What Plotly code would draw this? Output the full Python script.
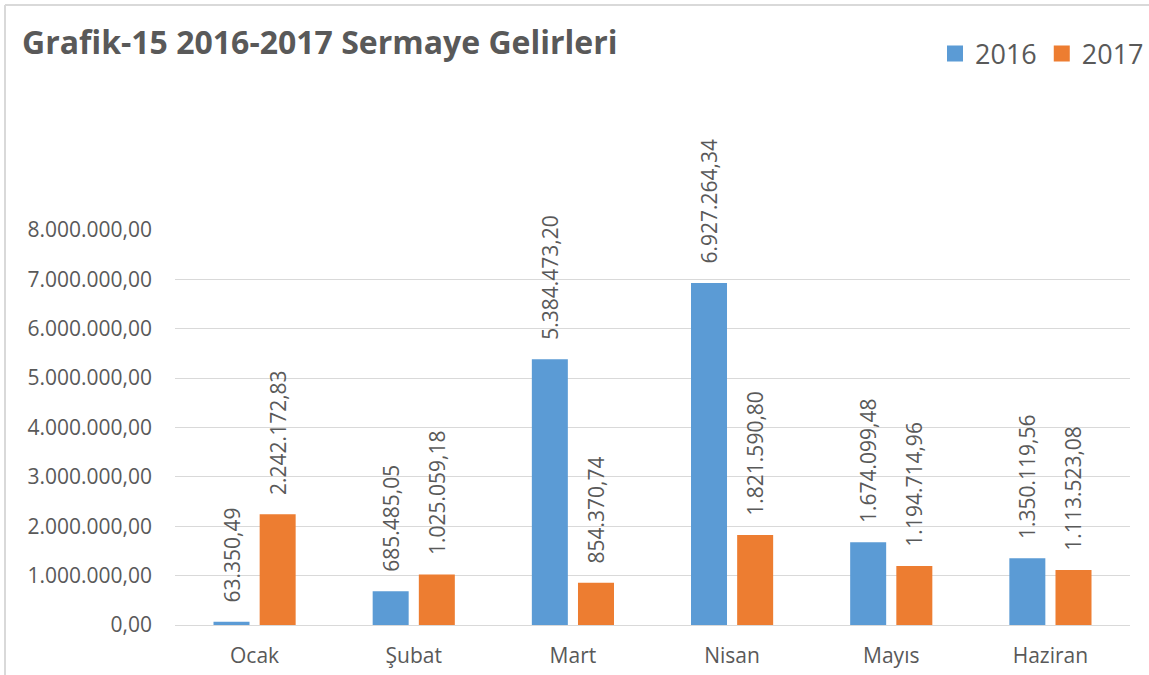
import plotly.graph_objects as go

months = ["Ocak", "Şubat", "Mart", "Nisan", "Mayıs", "Haziran"]
values_2016 = [63350.49, 685485.05, 5384473.20, 6927264.34, 1674099.48, 1350119.56]
values_2017 = [2242172.83, 1025059.18, 854370.74, 1821590.80, 1194714.96, 1113523.08]
y_ticks = [0, 1e6, 2e6, 3e6, 4e6, 5e6, 6e6, 7e6, 8e6]

BLUE = "#5B9BD5"
ORANGE = "#ED7D31"
GREY = "#595959"
FONT = "Open Sans, Noto Sans, sans-serif"


def tr_format(v: float) -> str:
    # Turkish number format: 1.234.567,89 (nbsp pad keeps label off the bar top)
    s = f"{v:,.2f}".replace(",", "X").replace(".", ",").replace("X", ".")
    return "\u00a0\u00a0\u00a0" + s


def bar(name, values, color) -> go.Bar:
    return go.Bar(
        name=name, x=months, y=values,
        marker=dict(color=color, line=dict(width=0)),
        text=[tr_format(v) for v in values],
        textposition="outside", textangle=-90, constraintext="none",
        textfont=dict(size=21, color=GREY, family=FONT),
        cliponaxis=False, showlegend=False,
    )


def legend_key(name, color) -> go.Scatter:
    return go.Scatter(
        name=name, x=[None], y=[None], mode="markers",
        marker=dict(symbol="square", size=18, color=color),
    )


def main() -> None:
    fig = go.Figure()
    fig.add_trace(bar("2016", values_2016, BLUE))
    fig.add_trace(bar("2017", values_2017, ORANGE))
    fig.add_trace(legend_key("2016", BLUE))
    fig.add_trace(legend_key("2017", ORANGE))

    # plot area in pixels: x 175..1130, y 230..625
    pw, ph = 955, 395
    fig.update_layout(
        width=1149, height=675,
        margin=dict(l=175, r=19, t=230, b=50),
        plot_bgcolor="white", paper_bgcolor="white",
        separators=",.",
        bargap=0.42, bargroupgap=0.22,
        font=dict(family=FONT, color=GREY),
        title=dict(
            text="<b>Grafik-15 2016-2017 Sermaye Gelirleri</b>",
            x=22 / 1149, y=1 - 43 / 675, xanchor="left", yanchor="middle",
            font=dict(size=32, color=GREY, family=FONT),
        ),
        legend=dict(
            orientation="h", x=1, y=1 - 54 / 675, xref="container", yref="container",
            xanchor="right", yanchor="middle",
            font=dict(size=27, color=GREY, family=FONT),
        ),
    )
    fig.update_xaxes(
        showline=False, showgrid=False, ticks="", automargin=False,
        tickfont=dict(size=21, color=GREY, family=FONT),
        ticklabelstandoff=16,
    )
    fig.update_yaxes(
        range=[0, 8e6], tickvals=y_ticks, tickformat=",.2f", automargin=False,
        showgrid=True, gridcolor="#D9D9D9", gridwidth=1,
        zeroline=True, zerolinecolor="#D9D9D9", zerolinewidth=1,
        tickfont=dict(size=21, color=GREY, family=FONT),
        ticklabelstandoff=22,
    )
    # light chart border (left and top edges)
    fig.add_shape(type="line", xref="paper", yref="paper",
                  x0=(5 - 175) / pw, x1=(5 - 175) / pw,
                  y0=(625 - 5) / ph, y1=(625 - 675) / ph,
                  line=dict(color="#D9D9D9", width=2))
    fig.add_shape(type="line", xref="paper", yref="paper",
                  x0=(5 - 175) / pw, x1=(1149 - 175) / pw,
                  y0=(625 - 5) / ph, y1=(625 - 5) / ph,
                  line=dict(color="#D9D9D9", width=2))

    fig.write_html(
        "out.html",
        config={"displayModeBar": False},
        post_script="document.body.style.margin='0';",
    )


if __name__ == "__main__":
    main()
